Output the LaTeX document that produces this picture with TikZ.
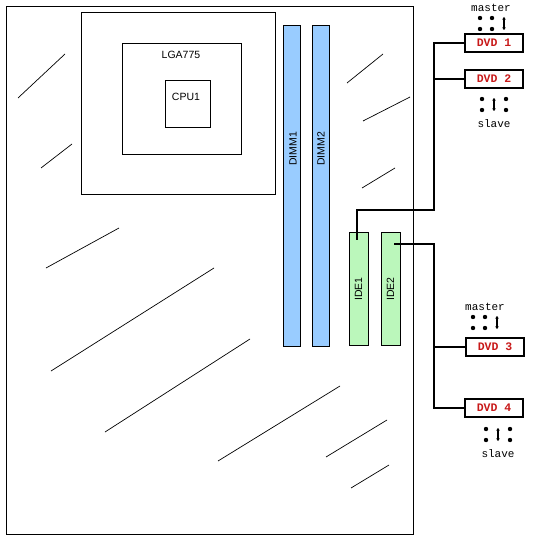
\documentclass[tikz,border=0pt]{standalone}
\usepackage{fontspec}
\setmainfont{Liberation Sans}
\newfontfamily\monof{Liberation Mono}
\definecolor{dimmblue}{RGB}{153,204,255}
\definecolor{idegreen}{RGB}{187,247,187}
\definecolor{dvdred}{RGB}{200,25,25}
\usetikzlibrary{arrows.meta}
\tikzset{
  box/.style={draw=black,line width=0.8pt,inner sep=0pt,anchor=north west},
  dimm/.style={box,fill=dimmblue,minimum width=17.4pt,minimum height=321.4pt},
  ide/.style={box,fill=idegreen,minimum width=19.4pt,minimum height=113.4pt},
  dvd/.style={draw=black,line width=1.8pt,fill=white,inner sep=0pt,minimum width=58pt,minimum height=18pt,text=dvdred,font=\monof\bfseries\fontsize{11.5}{12}\selectfont},
  lbl/.style={font=\fontsize{10.5}{12}\selectfont,inner sep=0pt},
  jump/.style={font=\monof\fontsize{11}{12}\selectfont,inner sep=0pt},
  wire/.style={draw=black,line width=1.8pt,line cap=rect},
  scratch/.style={draw=black,line width=0.7pt},
  pin/.style={circle,fill=black,inner sep=0pt,minimum size=4.4pt},
  link/.style={draw=black,line width=1.4pt,{Stealth[length=2.5pt,width=3.5pt]}-{Stealth[length=2.5pt,width=3.5pt]}}
}
\begin{document}
\begin{tikzpicture}[x=1pt,y=-1pt]
\useasboundingbox (0,0) rectangle (534,540);
\fill[white] (0,0) rectangle (534,540);
\node[box,minimum width=407pt,minimum height=528pt] (board) at (5.6,5.6) {};
\node[box,minimum width=194pt,minimum height=182pt] (socketouter) at (80.6,11.6) {};
\node[box,minimum width=119.4pt,minimum height=111.4pt] (socket) at (121.6,42.6) {};
\node[box,minimum width=45.4pt,minimum height=47.4pt] (cpu) at (164.6,79.6) {};
\node[lbl] (lga) at (181,55) {LGA775};
\node[lbl] (cpul) at (186,97) {CPU1};
\node[dimm] (d1) at (282.6,24.6) {};
\node[dimm] (d2) at (311.6,24.6) {};
\node[lbl,rotate=90] (d1l) at (293,149) {DIMM1};
\node[lbl,rotate=90] (d2l) at (321,149) {DIMM2};
\node[ide] (i1) at (348.6,231.6) {};
\node[ide] (i2) at (380.6,231.6) {};
\node[lbl,rotate=90] (i1l) at (358.5,289) {IDE1};
\node[lbl,rotate=90] (i2l) at (390.5,289) {IDE2};
% scratches
\draw[scratch] (18,98) -- (65,54);
\draw[scratch] (41,168) -- (72,144);
\draw[scratch] (46,268) -- (119,228);
\draw[scratch] (51,371) -- (214,268);
\draw[scratch] (105,432) -- (250,339);
\draw[scratch] (218,461) -- (340,386);
\draw[scratch] (326,457) -- (387,420);
\draw[scratch] (351,488) -- (389,465);
\draw[scratch] (347,83) -- (383,54);
\draw[scratch] (363,121) -- (410,97);
\draw[scratch] (362,188) -- (395,168);
% drives
\node[dvd] (dvd1) at (494,43) {DVD 1};
\node[dvd] (dvd2) at (494,79) {DVD 2};
\node[dvd] (dvd3) at (495,347) {DVD 3};
\node[dvd] (dvd4) at (494,408) {DVD 4};
% wires
\coordinate (a) at (357,239);
\coordinate (a1) at (357,210);
\coordinate (b) at (434,210);
\coordinate (c) at (395,244);
\coordinate (e) at (434,244);
\draw[wire] (a) -- (a1) -- (b) -- (b |- dvd1.west) -- (dvd1.west);
\draw[wire] (b |- dvd2.west) -- (dvd2.west);
\draw[wire] (c) -- (e) -- (e |- dvd4.west) -- (dvd4.west);
\draw[wire] (e |- dvd3.west) -- (dvd3.west);
% jumpers
\node[jump] (m1) at (491,8) {master};
\node[pin] (p1) at (480,18) {}; \node[pin] (p2) at (492,18) {}; \node[pin] (p3) at (480,29) {}; \node[pin] (p4) at (492,29) {};
\coordinate (j1a) at (504,17); \coordinate (j1b) at (504,30); \draw[link] (j1a) -- (j1b);
\node[jump] (s2) at (494,124) {slave};
\node[pin] (p5) at (482,99) {}; \node[pin] (p6) at (506,99) {}; \node[pin] (p7) at (482,110) {}; \node[pin] (p8) at (506,110) {};
\coordinate (j2a) at (494,98); \coordinate (j2b) at (494,111); \draw[link] (j2a) -- (j2b);
\node[jump] (m3) at (485,307) {master};
\node[pin] (p9) at (473,317) {}; \node[pin] (p10) at (485,317) {}; \node[pin] (p11) at (473,328) {}; \node[pin] (p12) at (485,328) {};
\coordinate (j3a) at (497,316); \coordinate (j3b) at (497,329); \draw[link] (j3a) -- (j3b);
\node[jump] (s4) at (498,454) {slave};
\node[pin] (p13) at (486,429) {}; \node[pin] (p14) at (510,429) {}; \node[pin] (p15) at (486,440) {}; \node[pin] (p16) at (510,440) {};
\coordinate (j4a) at (498,428); \coordinate (j4b) at (498,441); \draw[link] (j4a) -- (j4b);
\end{tikzpicture}
\end{document}
